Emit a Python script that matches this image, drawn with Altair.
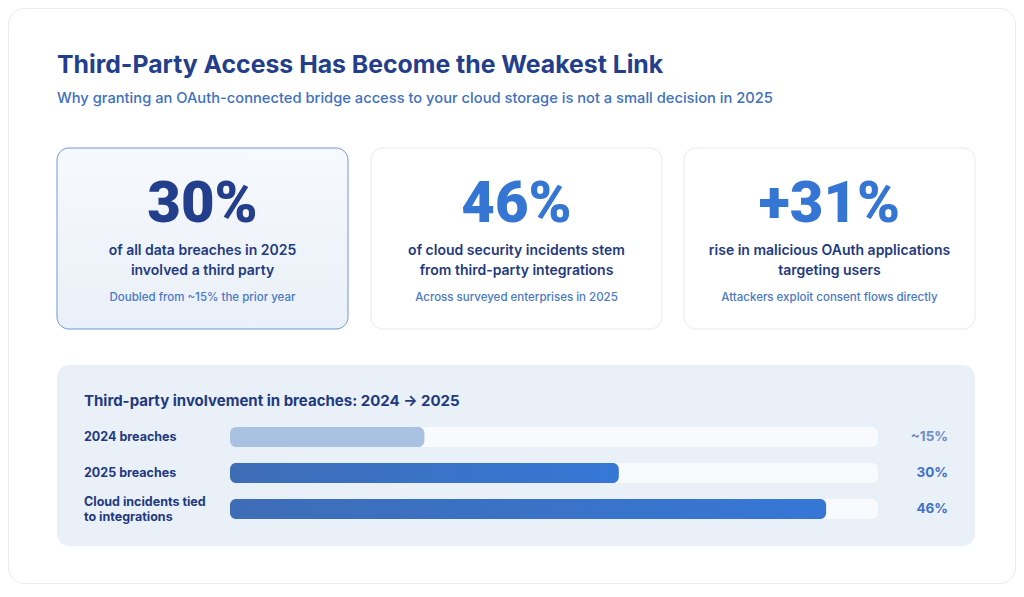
import altair as alt
import pandas as pd

# ---------------- data ----------------
title = "Third-Party Access Has Become the Weakest Link"
subtitle = "Why granting an OAuth-connected bridge access to your cloud storage is not a small decision in 2025"

card_values = ["30%", "46%", "+31%"]
card_line1 = ["of all data breaches in 2025", "of cloud security incidents stem", "rise in malicious OAuth applications"]
card_line2 = ["involved a third party", "from third-party integrations", "targeting users"]
card_notes = ["Doubled from ~15% the prior year", "Across surveyed enterprises in 2025", "Attackers exploit consent flows directly"]

section_title = "Third-party involvement in breaches: 2024 \u2192 2025"
bar_labels = ["2024 breaches", "2025 breaches", "Cloud incidents tied\nto integrations"]
bar_values = [15, 30, 46]
bar_text = ["~15%", "30%", "46%"]
scale_max = 50

# ---------------- layout ----------------
W, H = 1008, 576
FONT = "Inter"
NAVY = "#233E8B"
BLUE = "#3575D3"
MID = "#4A78C4"

bars_df = pd.DataFrame({"label": bar_labels, "value": bar_values, "text": bar_text,
                        "start": [0] * 3, "full": [scale_max] * 3})
bars_df["lines"] = bars_df["label"].str.count("\n") + 1

xs = alt.Scale(domain=[0, scale_max], range=[222, 870], nice=False, zero=True)
ys = alt.Scale(type="point", domain=bar_labels, range=[429, 501], padding=0)

one = pd.DataFrame({"a": [0]})
base = alt.Chart(one)

layers = []

# outer card
layers.append(base.mark_rect(fill="white", stroke="#E4EBF4", strokeWidth=1, cornerRadius=16).encode(
    x=alt.value(0.5), x2=alt.value(W - 0.5), y=alt.value(0.5), y2=alt.value(H - 0.5)))

# title & subtitle
layers.append(base.mark_text(text=title, font=FONT, fontSize=24.8, fontWeight=700, color=NAVY,
                             align="left", baseline="alphabetic").encode(x=alt.value(49), y=alt.value(65)))
layers.append(base.mark_text(text=subtitle, font=FONT, fontSize=14.7, fontWeight=500, color="#3D70C2",
                             align="left", baseline="alphabetic").encode(x=alt.value(49), y=alt.value(95)))

# stat cards
card_x = [(49, 340), (363, 654), (676, 967)]
for i, (x0, x1) in enumerate(card_x):
    cx = (x0 + x1) / 2
    if i == 0:
        fill = alt.Gradient(gradient="linear", x1=0, x2=0, y1=0, y2=1,
                            stops=[alt.GradientStop(color="#F6F9FD", offset=0),
                                   alt.GradientStop(color="#EAF0F8", offset=1)])
        stroke = "#6F97D6"
        numcol = NAVY
    else:
        fill = "white"
        stroke = "#E3EAF4"
        numcol = BLUE
    layers.append(base.mark_rect(fill=fill, stroke=stroke, strokeWidth=1, cornerRadius=12).encode(
        x=alt.value(x0), x2=alt.value(x1), y=alt.value(140), y2=alt.value(321)))
    layers.append(base.mark_text(text=card_values[i], font="Roboto", fontSize=58, fontWeight=900, color=numcol,
                                 align="center", baseline="alphabetic").encode(x=alt.value(cx), y=alt.value(214)))
    layers.append(base.mark_text(text=card_line1[i], font=FONT, fontSize=14, fontWeight=600, color="#1F3A80",
                                 align="center", baseline="middle").encode(x=alt.value(cx), y=alt.value(243)))
    layers.append(base.mark_text(text=card_line2[i], font=FONT, fontSize=14, fontWeight=600, color="#1F3A80",
                                 align="center", baseline="middle").encode(x=alt.value(cx), y=alt.value(263)))
    layers.append(base.mark_text(text=card_notes[i], font=FONT, fontSize=11.5, fontWeight=500, color=MID,
                                 align="center", baseline="middle").encode(x=alt.value(cx), y=alt.value(290)))

# bar panel
layers.append(base.mark_rect(fill="#EAF0F7", cornerRadius=12).encode(
    x=alt.value(49), x2=alt.value(967), y=alt.value(357), y2=alt.value(538)))
layers.append(base.mark_text(text=section_title, font=FONT, fontSize=15, fontWeight=700, color="#1F3A80",
                             align="left", baseline="middle").encode(x=alt.value(76), y=alt.value(393)))

bars = alt.Chart(bars_df)
# tracks
layers.append(bars.mark_bar(size=20, cornerRadius=6, color="#F8FAFD").encode(
    x=alt.X("start:Q", scale=xs, axis=None), x2="full:Q",
    y=alt.Y("label:N", scale=ys, axis=None)))
# 2024 bar (light)
layers.append(bars.transform_filter(alt.datum.value < 20).mark_bar(size=20, cornerRadius=6, color="#A9C2E2").encode(
    x=alt.X("start:Q", scale=xs, axis=None), x2="value:Q",
    y=alt.Y("label:N", scale=ys, axis=None)))
# later bars (gradient)
grad = alt.Gradient(gradient="linear", x1=0, x2=1, y1=0, y2=0,
                    stops=[alt.GradientStop(color="#3E6DB6", offset=0),
                           alt.GradientStop(color="#3677D6", offset=1)])
layers.append(bars.transform_filter(alt.datum.value >= 20).mark_bar(size=20, cornerRadius=6, color=grad).encode(
    x=alt.X("start:Q", scale=xs, axis=None), x2="value:Q",
    y=alt.Y("label:N", scale=ys, axis=None)))
# row labels (single-line and two-line)
layers.append(bars.transform_filter(alt.datum.lines == 1).mark_text(
    font=FONT, fontSize=12.5, fontWeight=700, color="#1F3A80", align="left", baseline="middle").encode(
    x=alt.value(76), y=alt.Y("label:N", scale=ys, axis=None), text="label:N"))
layers.append(bars.transform_filter(alt.datum.lines == 2).mark_text(
    font=FONT, fontSize=12.5, fontWeight=700, color="#1F3A80", align="left", baseline="middle",
    lineBreak="\n", lineHeight=15, dy=-7).encode(
    x=alt.value(76), y=alt.Y("label:N", scale=ys, axis=None), text="label:N"))
# value labels
layers.append(bars.mark_text(font=FONT, fontSize=13.5, fontWeight=700, align="right", baseline="middle").encode(
    x=alt.value(940), y=alt.Y("label:N", scale=ys, axis=None), text="text:N",
    color=alt.Color("label:N", scale=alt.Scale(domain=bar_labels, range=["#6C8DC9", "#3D72C8", "#3D72C8"]),
                    legend=None)))

chart = alt.layer(*layers).properties(
    width=W, height=H, padding=0, autosize=alt.AutoSizeParams(type="none"), background="white"
).configure_view(stroke=None)

chart.save("out.html", embed_options={"renderer": "svg", "actions": False})
